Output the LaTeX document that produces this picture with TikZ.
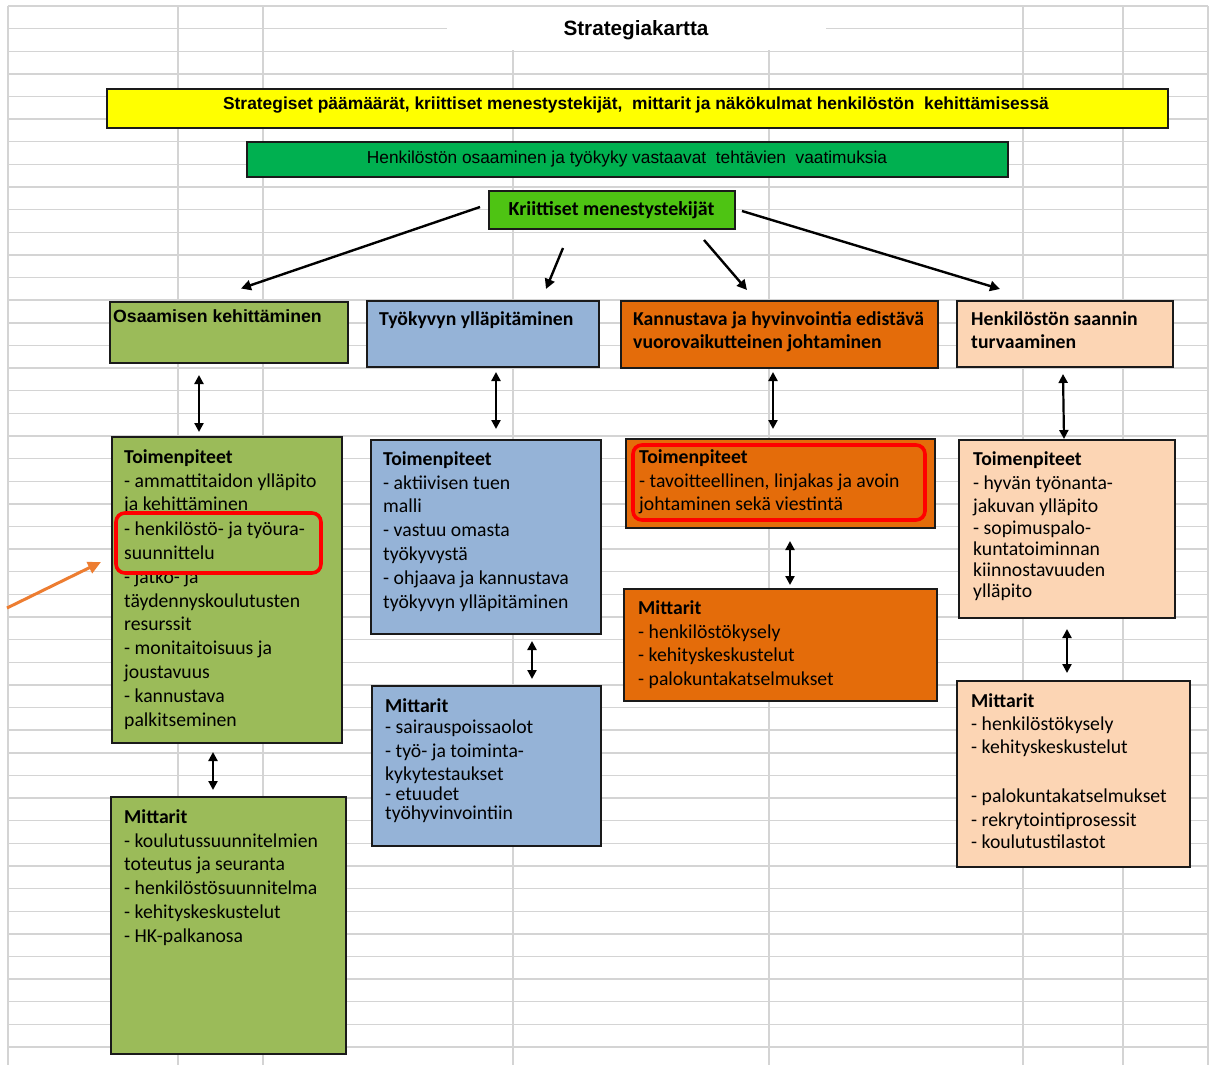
\documentclass[tikz,border=0pt]{standalone}
\usepackage{fontspec}
\setmainfont{Carlito}
\newfontfamily\arialfam{Liberation Sans}
\usetikzlibrary{arrows.meta,fit}

\definecolor{gridc}{HTML}{D4D4D4}
\definecolor{yel}{HTML}{FFFF00}
\definecolor{grn}{HTML}{00B050}
\definecolor{lime}{HTML}{4EC413}
\definecolor{olive}{HTML}{9BBB59}
\definecolor{bluec}{HTML}{95B3D7}
\definecolor{orng}{HTML}{E46C0A}
\definecolor{peach}{HTML}{FCD5B4}
\definecolor{pointer}{HTML}{ED7D31}
\definecolor{edge}{HTML}{1A1A1A}

% body text of the cards: Calibri-like, fixed baseline grid
\newcommand\bodyfont{\fontsize{19.7}{23.8}\selectfont\lineskiplimit=-30pt\relax}
\newcommand\headfont{\bfseries\fontsize{19.7}{23.5}\selectfont\lineskiplimit=-30pt\relax}
\newcommand\firstln{\rule{0pt}{16pt}}

\begin{document}
\begin{tikzpicture}[x=1pt,y=-1pt,
  gridline/.style={draw=gridc, line width=1.4pt},
  panel/.style={draw=edge, line width=1.3pt, inner sep=0pt},
  hilite/.style={draw=red, line width=3.6pt, rounded corners=9pt, inner sep=0pt},
  body/.style={anchor=north west, inner sep=0pt, align=left, font=\bodyfont},
  flow/.style={line width=2.4pt, -{Triangle[length=10pt,width=10pt]}},
  link/.style={line width=2.2pt, {Triangle[length=9pt,width=9pt]}-{Triangle[length=9pt,width=9pt]}},
]
\useasboundingbox (0,0) rectangle (1214,1065);
\fill[white] (0,0) rectangle (1214,1065);

% spreadsheet grid
\foreach \k in {0,...,46} \draw[gridline] (8,{6+22.63*\k}) -- (1208,{6+22.63*\k});
\foreach \x in {8,178,263,513,769,1023,1123,1208} \draw[gridline] (\x,6) -- (\x,1065);

% title cell
\node[fill=white, inner sep=0pt, fit={(447,7.5) (826,50)}] (titlecell) {};
\node[anchor=base, inner sep=0pt, font=\arialfam\bfseries\fontsize{20.7}{24}\selectfont] (title) at (636,35.5) {Strategiakartta};

% banners
\node[panel, fill=yel, fit={(107,89) (1168,128)}] (goals) {};
\node[anchor=base, inner sep=0pt, font=\arialfam\bfseries\fontsize{17.4}{20}\selectfont] (goals-t) at (636,109.5)
  {Strategiset päämäärät, kriittiset menestystekijät,\ \ mittarit ja näkökulmat henkilöstön\ \ kehittämisessä};
\node[panel, fill=grn, fit={(247,142) (1008,177)}] (vision) {};
\node[anchor=base, inner sep=0pt, font=\arialfam\fontsize{17.3}{20}\selectfont] (vision-t) at (627,163.5)
  {Henkilöstön osaaminen ja työkyky vastaavat\ \ tehtävien\ \ vaatimuksia};
\node[panel, fill=lime, fit={(489,191) (735,229)}] (csf) {};
\node[anchor=base, inner sep=0pt, font=\bfseries\fontsize{19.9}{22}\selectfont] (csf-t) at (611.5,215) {Kriittiset menestystekijät};

% column headers
\node[panel, fill=olive, fit={(110,302) (348,363)}] (osa) {};
\node[anchor=base west, inner sep=0pt, font=\arialfam\bfseries\fontsize{17.7}{20}\selectfont] (osa-t) at (113,322) {Osaamisen kehittäminen};
\node[panel, fill=bluec, fit={(367,301) (599,367)}] (tyo) {};
\node[anchor=base west, inner sep=0pt, font=\headfont] (tyo-t) at (379,325) {Työkyvyn ylläpitäminen};
\node[panel, fill=orng, fit={(621,301) (938,368)}] (kan) {};
\node[body, font=\headfont] (kan-t) at (633,309)
  {\firstln Kannustava ja hyvinvointia edistävä\\vuorovaikutteinen johtaminen};
\node[panel, fill=peach, fit={(957,301) (1173,367)}] (hen) {};
\node[body, font=\headfont] (hen-t) at (971,309)
  {\firstln Henkilöstön saannin\\turvaaminen};

% measures (Toimenpiteet)
\node[panel, fill=olive, fit={(112,437) (342,743)}] (osaT) {};
\node[body] (osaT-a) at (124,447) {\firstln\textbf{Toimenpiteet}\\- ammattitaidon ylläpito\\ja kehittäminen};
\node[body] (osaT-c) at (124,567) {\firstln- jatko- ja\\täydennyskoulutusten\\resurssit\\- monitaitoisuus ja\\joustavuus\\- kannustava\\palkitseminen};
\node[hilite, fill=olive, fit={(116,513) (321,573)}] (osaT-hl) {};
\node[body] (osaT-b) at (124,519) {\firstln- henkilöstö- ja työura-\\suunnittelu};

\node[panel, fill=bluec, fit={(371,440) (601,634)}] (tyoT) {};
\node[body] (tyoT-t) at (383,449) {\firstln\textbf{Toimenpiteet}\\- aktiivisen tuen\\malli\\- vastuu omasta\\työkyvystä\\- ohjaava ja kannustava\\työkyvyn ylläpitäminen};

\node[panel, fill=orng, fit={(626,439) (935,528)}] (kanT) {};
\node[hilite, fill=orng, fit={(633,445) (925,520)}] (kanT-hl) {};
\node[body] (kanT-t) at (639,447) {\firstln\textbf{Toimenpiteet}\\- tavoitteellinen, linjakas ja avoin\\johtaminen sekä viestintä};

\node[panel, fill=peach, fit={(959,440) (1175,618)}] (henT) {};
\node[body] (henT-t) at (973,449) {\firstln\textbf{Toimenpiteet}\\- hyvän työnanta-\\jakuvan ylläpito\\[-1.8pt]- sopimuspalo-\\[-2.8pt]kuntatoiminnan\\[-2.8pt]kiinnostavuuden\\[-2.8pt]ylläpito};

% indicators (Mittarit)
\node[panel, fill=olive, fit={(111,797) (346,1054)}] (osaM) {};
\node[body] (osaM-t) at (124,807) {\firstln\textbf{Mittarit}\\- koulutussuunnitelmien\\toteutus ja seuranta\\- henkilöstösuunnitelma\\- kehityskeskustelut\\- HK-palkanosa};

\node[panel, fill=bluec, fit={(372,686) (601,846)}] (tyoM) {};
\node[body] (tyoM-t) at (385,696) {\firstln\textbf{Mittarit}\\[-2.8pt]- sairauspoissaolot\\- työ- ja toiminta-\\[-0.8pt]kykytestaukset\\[-3.3pt]- etuudet\\[-5.3pt]työhyvinvointiin};

\node[panel, fill=orng, fit={(624,589) (937,701)}] (kanM) {};
\node[body] (kanM-t) at (638,598) {\firstln\textbf{Mittarit}\\- henkilöstökysely\\- kehityskeskustelut\\- palokuntakatselmukset};

\node[panel, fill=peach, fit={(957,681) (1190,867)}] (henM) {};
\node[body] (henM-t) at (971,691) {\firstln\textbf{Mittarit}\\[-0.8pt]- henkilöstökysely\\[-0.8pt]- kehityskeskustelut\\[25.2pt]- palokuntakatselmukset\\- rekrytointiprosessit\\[-1.8pt]- koulutustilastot};

% arrow ends
\coordinate (f1s) at (480,207);  \coordinate (f1e) at (241,288.5);
\coordinate (f2s) at (563,248);  \coordinate (f2e) at (546,289);
\coordinate (f3s) at (704,240);  \coordinate (f3e) at (747,290);
\coordinate (f4s) at (742,211);  \coordinate (f4e) at (1000,289);

\draw[flow] (f1s) -- (f1e);
\draw[flow] (f2s) -- (f2e);
\draw[flow] (f3s) -- (f3e);
\draw[flow] (f4s) -- (f4e);

\coordinate (l1a) at (199,375);  \coordinate (l1b) at (199,432);
\coordinate (l2a) at (213,752);  \coordinate (l2b) at (213,790);
\coordinate (l3a) at (496,372);  \coordinate (l3b) at (496,429);
\coordinate (l4a) at (532,641);  \coordinate (l4b) at (532,679);
\coordinate (l5a) at (773,372);  \coordinate (l5b) at (773,429);
\coordinate (l6a) at (790,541);  \coordinate (l6b) at (790,585);
\coordinate (l7a) at (1063,374); \coordinate (l7b) at (1064,439);
\coordinate (l8a) at (1067,629); \coordinate (l8b) at (1067,673);

\foreach \i in {1,...,8} \draw[link] (l\i a) -- (l\i b);

% pointer to the highlighted item
\coordinate (ptail) at (7,608);
\coordinate (phead) at (101,562);
\draw[draw=pointer, line width=3pt, -{Triangle[length=13pt,width=12pt]}] (ptail) -- (phead);
\end{tikzpicture}
\end{document}
